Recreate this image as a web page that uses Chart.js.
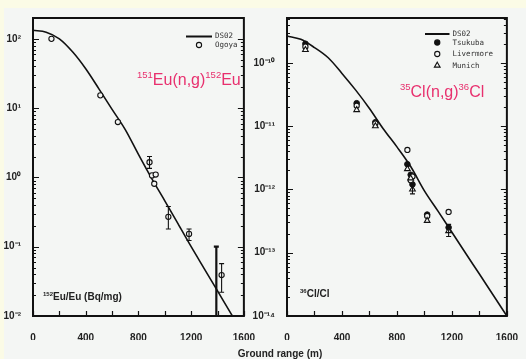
<!DOCTYPE html>
<html>
<head>
<meta charset="utf-8">
<script src="https://cdn.jsdelivr.net/npm/chart.js@4.4.0/dist/chart.umd.min.js"></script>
<style>
  html, body { margin: 0; padding: 0; }
  body { width: 526px; height: 359px; background: #fbfbe6; position: relative; overflow: hidden;
         font-family: "Liberation Sans", Arial, sans-serif; }
  #panel { position: absolute; left: 4px; top: 8px; right: 0; bottom: 0; background: #f4f6f4; }
  canvas { position: absolute; top: 0; }
  #euChart { left: 0; }
  #clChart { left: 240px; }
  #xlabel { position: absolute; left: 230px; width: 100px; top: 348px; text-align: center;
            font-weight: bold; font-size: 10px; line-height: 11px; color: #222; }
</style>
</head>
<body>
<div id="panel"></div>
<canvas id="euChart" width="263" height="359"></canvas>
<canvas id="clChart" width="286" height="359"></canvas>
<div id="xlabel">Ground range (m)</div>
<script>
// ground range (m) for the DS02 curves
const curveRange = [0, 100, 200, 300, 400, 500, 600, 700, 800, 900, 1000, 1100, 1200, 1300, 1400, 1500, 1600];

// 151Eu(n,g)152Eu
const euCurve = [133, 125, 100, 65, 37, 19, 9.6, 4.9, 2.15, 0.97, 0.46, 0.215, 0.1, 0.048, 0.023, 0.011, 0.0053];
const euRange = [140, 511, 644, 884, 903, 931, 920, 1027, 1184, 1431];
const euValue = [100, 15.3, 6.3, 1.66, 1.07, 1.1, 0.81, 0.27, 0.153, 0.039];
const euErrLow = [null, null, null, 1.35, null, null, null, 0.18, 0.123, 0.022];
const euErrHigh = [null, null, null, 2.0, null, null, null, 0.38, 0.18, 0.057];
// point below the axis, only its upper error bar is visible
const euLimitRange = [1391];
const euLimitValue = [0.006];
const euLimitLow = [0.006];
const euLimitHigh = [0.1];
const euTicks = [0.01, 0.1, 1, 10, 100];
const euTickLabels = ['10⁻²', '10⁻¹', '10⁰', '10¹', '10²'];

// 35Cl(n,g)36Cl
const clCurve = [2.65e-10, 2.35e-10, 1.74e-10, 1.2e-10, 6.8e-11, 3.7e-11, 1.9e-11, 9.1e-12, 4.7e-12, 2.3e-12, 9.5e-13, 4.5e-13, 2.1e-13, 9.8e-14, 4.6e-14, 2.15e-14, 1.0e-14];
const clRange = [134, 507, 643, 876, 900, 913, 1020, 1176];
const tsukubaValue = [2.0e-10, 2.3e-11, 1.15e-11, 2.5e-12, 1.7e-12, 1.2e-12, 4.0e-13, 2.5e-13];
const livermoreValue = [1.8e-10, 2.1e-11, 1.1e-11, 4.2e-12, 1.4e-12, 1.6e-12, 3.8e-13, 4.4e-13];
const munichValue = [1.6e-10, 1.8e-11, 1.0e-11, 2.1e-12, 1.5e-12, 1.0e-12, 3.2e-13, 2.2e-13];
const munichErrLow = [null, null, null, null, null, 0.85e-12, null, 1.8e-13];
const munichErrHigh = [null, null, null, null, null, 1.15e-12, null, 2.8e-13];
const clTicks = [1e-14, 1e-13, 1e-12, 1e-11, 1e-10];
const clTickLabels = ['10⁻¹⁴', '10⁻¹³', '10⁻¹²', '10⁻¹¹', '10⁻¹⁰'];

const PANEL = '#f4f6f4';
const INK = '#111';
const PINK = '#e8306e';

Chart.defaults.font.family = "'Liberation Sans', Arial, sans-serif";
Chart.defaults.color = '#222';

function pts(xs, ys) {
  return xs.map((x, i) => ({ x: x, y: ys[i] }));
}

// frame with inward ticks, like the original plots
const framePlugin = {
  id: 'frame',
  afterDraw(chart) {
    const { ctx, chartArea: a, scales: { x, y } } = chart;
    ctx.save();
    ctx.strokeStyle = INK;
    ctx.lineWidth = 1.2;
    ctx.beginPath();
    for (let v = x.min; v <= x.max; v += 200) {
      const px = Math.round(x.getPixelForValue(v)) + 0.5;
      ctx.moveTo(px, a.bottom);
      ctx.lineTo(px, a.bottom - 5);
    }
    const lo = Math.floor(Math.log10(y.min)), hi = Math.ceil(Math.log10(y.max));
    for (let e = lo; e <= hi; e++) {
      for (let m = 1; m <= 9; m++) {
        const v = m * Math.pow(10, e);
        if (v < y.min * 0.999 || v > y.max) continue;
        const py = Math.round(y.getPixelForValue(v)) + 0.5;
        const len = m === 1 ? 6 : 3;
        ctx.moveTo(a.left, py); ctx.lineTo(a.left + len, py);
        ctx.moveTo(a.right, py); ctx.lineTo(a.right - len, py);
      }
    }
    ctx.stroke();
    ctx.lineWidth = 2;
    ctx.strokeRect(a.left, a.top, a.right - a.left, a.bottom - a.top);
    ctx.restore();
  }
};

// vertical error bars read from dataset.errLow / dataset.errHigh
const errorBarPlugin = {
  id: 'errorBars',
  afterDatasetsDraw(chart) {
    const { ctx, chartArea: a, scales: { x, y } } = chart;
    ctx.save();
    ctx.beginPath();
    ctx.rect(a.left, a.top, a.right - a.left, a.bottom - a.top);
    ctx.clip();
    ctx.strokeStyle = INK;
    chart.data.datasets.forEach(ds => {
      if (!ds.errLow) return;
      ctx.lineWidth = ds.errWidth || 1.1;
      ds.data.forEach((p, i) => {
        if (ds.errLow[i] == null) return;
        const px = x.getPixelForValue(p.x);
        const y1 = y.getPixelForValue(ds.errLow[i]);
        const y2 = y.getPixelForValue(ds.errHigh[i]);
        ctx.beginPath();
        ctx.moveTo(px, y1); ctx.lineTo(px, y2);
        ctx.moveTo(px - 2.5, y1); ctx.lineTo(px + 2.5, y1);
        ctx.moveTo(px - 2.5, y2); ctx.lineTo(px + 2.5, y2);
        ctx.stroke();
      });
    });
    ctx.restore();
  }
};

// text with superscripts: parts = [[text, size, raise, bold]]
function drawParts(ctx, parts, x, y, color) {
  ctx.fillStyle = color;
  ctx.textBaseline = 'alphabetic';
  ctx.textAlign = 'left';
  parts.forEach(p => {
    ctx.font = (p[3] ? 'bold ' : '') + p[1] + "px 'Liberation Sans', Arial, sans-serif";
    ctx.fillText(p[0], x, y - p[2]);
    x += ctx.measureText(p[0]).width;
  });
}

function marker(ctx, style, x, y, filled) {
  ctx.beginPath();
  if (style === 'triangle') {
    const r = 3.3;
    ctx.moveTo(x, y - r);
    ctx.lineTo(x + r * 0.87, y + r * 0.5);
    ctx.lineTo(x - r * 0.87, y + r * 0.5);
    ctx.closePath();
  } else {
    ctx.arc(x, y, 2.6, 0, Math.PI * 2);
  }
  ctx.fillStyle = filled ? INK : PANEL;
  ctx.fill();
  ctx.lineWidth = 1.1;
  ctx.strokeStyle = INK;
  ctx.stroke();
}

function legend(ctx, x0, x1, y, items) {
  ctx.save();
  ctx.strokeStyle = INK;
  ctx.lineWidth = 2;
  ctx.beginPath();
  ctx.moveTo(x0, y); ctx.lineTo(x1, y);
  ctx.stroke();
  ctx.font = "7.5px 'DejaVu Sans Mono', monospace";
  ctx.fillStyle = '#333';
  ctx.textBaseline = 'middle';
  ctx.fillText('DS02', x1 + 3, y);
  items.forEach((it, i) => {
    const yy = y + 11.5 * (i + 1) - 3;
    marker(ctx, it.style, (x0 + x1) / 2, yy, it.filled);
    ctx.fillStyle = '#333';
    ctx.fillText(it.label, x1 + 3, yy + 0.5);
  });
  ctx.restore();
}

function axes(yMin, yMax, ticks, labels, yWidth) {
  return {
    x: {
      type: 'linear', min: 0, max: 1600,
      grid: { display: false }, border: { display: false },
      ticks: {
        stepSize: 400, padding: 8, font: { size: 10, weight: 'bold' }, color: '#222', maxRotation: 0,
        callback: v => String(v)
      },
      afterFit: s => { s.height = 24; }
    },
    y: {
      type: 'logarithmic', min: yMin, max: yMax,
      grid: { display: false }, border: { display: false },
      afterBuildTicks: s => { s.ticks = ticks.map(v => ({ value: v })); },
      ticks: {
        autoSkip: false, padding: 4, font: { size: 10, weight: 'bold' }, color: '#222',
        callback: v => { const i = ticks.indexOf(v); return i >= 0 ? labels[i] : ''; }
      },
      afterFit: s => { s.width = yWidth; }
    }
  };
}

const lineStyle = {
  showLine: true, borderColor: INK, borderWidth: 1.6, pointRadius: 0,
  cubicInterpolationMode: 'monotone', order: 2
};

new Chart(document.getElementById('euChart'), {
  type: 'scatter',
  data: {
    datasets: [
      Object.assign({ label: 'DS02', data: pts(curveRange, euCurve) }, lineStyle),
      {
        label: 'Ogoya', data: pts(euRange, euValue),
        errLow: euErrLow, errHigh: euErrHigh,
        pointStyle: 'circle', pointRadius: 2.6, borderWidth: 1.1,
        borderColor: INK, backgroundColor: PANEL, order: 1
      },
      {
        label: 'Ogoya limit', data: pts(euLimitRange, euLimitValue),
        errLow: euLimitLow, errHigh: euLimitHigh, errWidth: 2.2,
        pointRadius: 0, borderColor: INK
      }
    ]
  },
  options: {
    responsive: false, animation: false, devicePixelRatio: 1,
    layout: { padding: { top: 18, right: 6, bottom: 19, left: 0 } },
    plugins: { legend: { display: false }, tooltip: { enabled: false } },
    scales: axes(0.01, 200, euTicks, euTickLabels, 33)
  },
  plugins: [errorBarPlugin, framePlugin, {
    id: 'euText',
    afterDraw(chart) {
      const ctx = chart.ctx;
      ctx.save();
      drawParts(ctx, [['151', 9.5, 7], ['Eu(n,g)', 16, 0], ['152', 9.5, 7], ['Eu', 16, 0]], 137, 85, PINK);
      drawParts(ctx, [['152', 6, 4, true], ['Eu/Eu (Bq/mg)', 10, 0, true]], 43, 300, '#222');
      legend(ctx, 186, 212, 36.5, [{ label: 'Ogoya', style: 'circle', filled: false }]);
      ctx.restore();
    }
  }]
});

new Chart(document.getElementById('clChart'), {
  type: 'scatter',
  data: {
    datasets: [
      Object.assign({ label: 'DS02', data: pts(curveRange, clCurve) }, lineStyle),
      {
        label: 'Munich', data: pts(clRange, munichValue),
        errLow: munichErrLow, errHigh: munichErrHigh,
        pointStyle: 'triangle', pointRadius: 3.3, borderWidth: 1.1,
        borderColor: INK, backgroundColor: PANEL, order: 1
      },
      {
        label: 'Livermore', data: pts(clRange, livermoreValue),
        pointStyle: 'circle', pointRadius: 2.6, borderWidth: 1.1,
        borderColor: INK, backgroundColor: PANEL, order: 1
      },
      {
        label: 'Tsukuba', data: pts(clRange, tsukubaValue),
        pointStyle: 'circle', pointRadius: 2.8, borderWidth: 1,
        borderColor: INK, backgroundColor: INK, order: 1
      }
    ]
  },
  options: {
    responsive: false, animation: false, devicePixelRatio: 1,
    layout: { padding: { top: 18, right: 15, bottom: 19, left: 0 } },
    plugins: { legend: { display: false }, tooltip: { enabled: false } },
    scales: axes(1e-14, 5.1e-10, clTicks, clTickLabels, 47)
  },
  plugins: [errorBarPlugin, framePlugin, {
    id: 'clText',
    afterDraw(chart) {
      const ctx = chart.ctx;
      ctx.save();
      drawParts(ctx, [['35', 9.5, 7], ['Cl(n,g)', 16, 0], ['36', 9.5, 7], ['Cl', 16, 0]], 160, 97, PINK);
      drawParts(ctx, [['36', 6, 4, true], ['Cl/Cl', 10, 0, true]], 60, 297, '#222');
      legend(ctx, 185, 209.5, 34, [
        { label: 'Tsukuba', style: 'circle', filled: true },
        { label: 'Livermore', style: 'circle', filled: false },
        { label: 'Munich', style: 'triangle', filled: false }
      ]);
      ctx.restore();
    }
  }]
});
</script>
</body>
</html>
